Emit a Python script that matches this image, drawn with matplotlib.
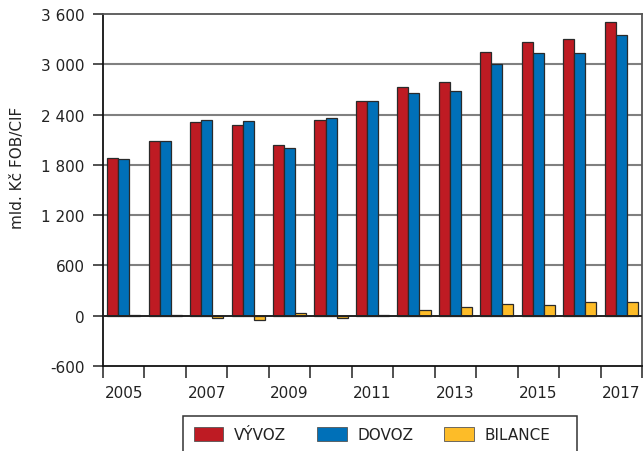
import matplotlib
matplotlib.use("Agg")
import matplotlib.pyplot as plt
import numpy as np
from matplotlib.patches import Rectangle
from matplotlib.ticker import FixedLocator, FuncFormatter

years = [2005, 2006, 2007, 2008, 2009, 2010, 2011, 2012, 2013, 2014, 2015, 2016, 2017]
vyvoz = [1880, 2090, 2313, 2277, 2035, 2333, 2567, 2726, 2786, 3147, 3262, 3298, 3508]
dovoz = [1875, 2086, 2333, 2321, 1999, 2357, 2559, 2658, 2678, 3000, 3131, 3131, 3346]
bilance = [6, 3, -25, -48, 32, -25, 8, 64, 103, 143, 127, 167, 167]
series_names = ["VÝVOZ", "DOVOZ", "BILANCE"]
colors = ["#BE1B23", "#0070B8", "#FDBC28"]
y_ticks = [-600, 0, 600, 1200, 1800, 2400, 3000, 3600]
x_label_years = [2005, 2007, 2009, 2011, 2013, 2015, 2017]

plt.rcParams['font.family'] = ['DejaVu Sans']

fig = plt.figure(figsize=(6.44, 4.52), dpi=100)
ax = fig.add_axes([103/644, 1 - 367/452, (642-103)/644, (367-15)/452])

x = np.arange(len(years))
w = 0.266
for k, (vals, c, name) in enumerate(zip([vyvoz, dovoz, bilance], colors, series_names)):
    ax.bar(x + (k - 1) * w, vals, width=w, color=c, edgecolor='#2a2a2a',
           linewidth=0.9, label=name, zorder=3)

ax.set_xlim(-0.5, len(years) - 0.5)
ax.set_ylim(-600, 3600)

# grid
for yv in y_ticks:
    if yv == 0:
        ax.axhline(yv, color='#222222', lw=1.4, zorder=4)
    elif yv not in (-600, 3600):
        ax.axhline(yv, color='#808080', lw=1.5, zorder=1)

ax.spines['top'].set_color('#555555')
ax.spines['right'].set_color('#555555')
ax.spines['left'].set_color('#111111')
ax.spines['bottom'].set_color('#111111')
for s in ax.spines.values():
    s.set_linewidth(1.3)

ax.yaxis.set_major_locator(FixedLocator(y_ticks))
ax.yaxis.set_major_formatter(FuncFormatter(lambda v, p: f"{int(v):,}".replace(",", " ")))
ax.tick_params(axis='y', length=7.2, width=1.1, pad=6, labelsize=11, colors='#222222', direction='out')

ax.xaxis.set_major_locator(FixedLocator(np.arange(-0.5, len(years), 1.0)))
ax.xaxis.set_major_formatter(FuncFormatter(lambda v, p: ""))
ax.xaxis.set_minor_locator(FixedLocator([years.index(yr) for yr in x_label_years]))
ax.xaxis.set_minor_formatter(FuncFormatter(lambda v, p: str(years[int(round(v))])))
ax.tick_params(axis='x', which='major', length=8.6, width=1.1, colors='#222222', direction='out')
ax.tick_params(axis='x', which='minor', length=0, pad=14, labelsize=11, colors='#222222')

ax.set_ylabel("mld. Kč FOB/CIF", fontsize=11, color='#222222')
ax.yaxis.set_label_coords(-0.145, (367-168)/352)

leg = fig.legend(loc='upper left', bbox_to_anchor=(183/644, 1 - 417/452), ncol=3,
                 fontsize=11, frameon=False,
                 handlelength=1.95, handleheight=1.1, handletextpad=0.7,
                 columnspacing=2.0, borderpad=0.7, borderaxespad=0)
for h in leg.legend_handles:
    h.set_edgecolor('#555555')
    h.set_linewidth(0.6)
for t in leg.get_texts():
    t.set_color('#222222')

# legend frame (extends past the bottom edge, as in the reference)
fig.add_artist(Rectangle((183/644, -0.05), (577-183)/644, (1 - 417/452) + 0.05,
                         transform=fig.transFigure, fill=False,
                         edgecolor='#333333', linewidth=1.1))

fig.savefig("out.png", dpi=100)
